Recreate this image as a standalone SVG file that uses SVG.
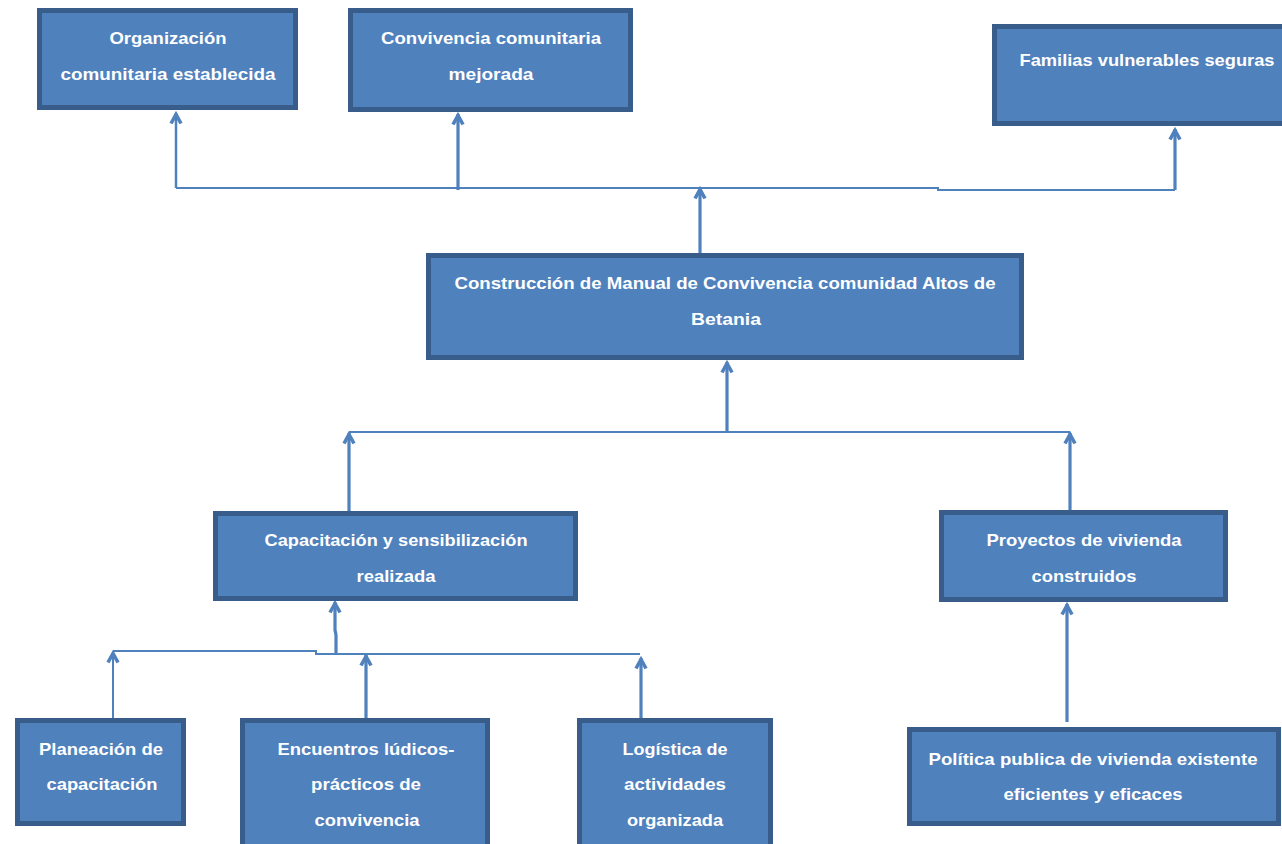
<svg xmlns="http://www.w3.org/2000/svg" width="1282" height="844" viewBox="0 0 1282 844">
<style>
.box{fill:#4F81BD;stroke:#385D8A;stroke-width:5}
.t{font-family:"Liberation Sans",Arial,sans-serif;font-size:17px;font-weight:bold;fill:#FFFFFF;text-anchor:middle}
.c{fill:none;stroke:#4F81BD;stroke-width:3.2}
.h{fill:none;stroke:#4F81BD;stroke-width:2}
</style>
<defs>
<marker id="arr" viewBox="-12 -7 14 14" refX="0" refY="0" markerWidth="14" markerHeight="14" markerUnits="userSpaceOnUse" orient="auto" overflow="visible">
<path d="M-10.5,-5 L-1.5,0 L-10.5,5" fill="none" stroke="#4F81BD" stroke-width="3.6"/>
</marker>
</defs>
<rect width="1282" height="844" fill="#FFFFFF"/>
<g id="connectors">
<polyline class="h" points="176,188 938,188 938,190 1175,190"/>
<line class="c" x1="176" y1="188" x2="176" y2="113" marker-end="url(#arr)" style="stroke-width:2.5"/>
<line class="c" x1="458" y1="190" x2="458" y2="114" marker-end="url(#arr)"/>
<line class="c" x1="1175" y1="190" x2="1175" y2="129" marker-end="url(#arr)"/>
<line class="c" x1="700" y1="253" x2="700" y2="188" marker-end="url(#arr)"/>
<line class="c" x1="727" y1="432" x2="727" y2="362" marker-end="url(#arr)"/>
<line class="h" x1="349" y1="432" x2="1070" y2="432"/>
<line class="c" x1="349" y1="512" x2="349" y2="433" marker-end="url(#arr)"/>
<line class="c" x1="1070" y1="512" x2="1070" y2="433" marker-end="url(#arr)"/>
<polyline class="c" points="336,653 336,635 335,630 335,602" marker-end="url(#arr)"/>
<polyline class="h" points="113,651 316,651 316,654 640,654"/>
<line class="h" x1="113" y1="718" x2="113" y2="652" marker-end="url(#arr)"/>
<line class="c" x1="366" y1="718" x2="366" y2="655" marker-end="url(#arr)"/>
<line class="c" x1="641" y1="718" x2="641" y2="658" marker-end="url(#arr)"/>
<line class="c" x1="1067" y1="722" x2="1067" y2="604" marker-end="url(#arr)"/>
</g>
<g id="n1">
<rect class="box" x="39.5" y="10.5" width="256" height="97"/>
<text class="t" x="168" y="44" textLength="117" lengthAdjust="spacingAndGlyphs">Organización</text>
<text class="t" x="168" y="80" textLength="215" lengthAdjust="spacingAndGlyphs">comunitaria establecida</text>
</g>
<g id="n2">
<rect class="box" x="350.5" y="10.5" width="280" height="99"/>
<text class="t" x="491" y="44" textLength="220" lengthAdjust="spacingAndGlyphs">Convivencia comunitaria</text>
<text class="t" x="491" y="80" textLength="85" lengthAdjust="spacingAndGlyphs">mejorada</text>
</g>
<g id="n3">
<rect class="box" x="994.5" y="26.5" width="305" height="97"/>
<text class="t" x="1147" y="66" textLength="255" lengthAdjust="spacingAndGlyphs">Familias vulnerables seguras</text>
</g>
<g id="n4">
<rect class="box" x="428.5" y="255.5" width="593" height="102"/>
<text class="t" x="725" y="289" textLength="541" lengthAdjust="spacingAndGlyphs">Construcción de Manual de Convivencia comunidad Altos de</text>
<text class="t" x="726" y="325" textLength="70" lengthAdjust="spacingAndGlyphs">Betania</text>
</g>
<g id="n5">
<rect class="box" x="215.5" y="513.5" width="360" height="85"/>
<text class="t" x="396" y="546" textLength="263" lengthAdjust="spacingAndGlyphs">Capacitación y sensibilización</text>
<text class="t" x="396" y="582" textLength="79" lengthAdjust="spacingAndGlyphs">realizada</text>
</g>
<g id="n6">
<rect class="box" x="941.5" y="512.5" width="284" height="87"/>
<text class="t" x="1084" y="546" textLength="195" lengthAdjust="spacingAndGlyphs">Proyectos de vivienda</text>
<text class="t" x="1084" y="582" textLength="105" lengthAdjust="spacingAndGlyphs">construidos</text>
</g>
<g id="n7">
<rect class="box" x="17.5" y="720.5" width="166" height="103"/>
<text class="t" x="101" y="755" textLength="124" lengthAdjust="spacingAndGlyphs">Planeación de</text>
<text class="t" x="102" y="790" textLength="111" lengthAdjust="spacingAndGlyphs">capacitación</text>
</g>
<g id="n8">
<rect class="box" x="242.5" y="720.5" width="245" height="130"/>
<text class="t" x="366" y="755" textLength="177" lengthAdjust="spacingAndGlyphs">Encuentros lúdicos-</text>
<text class="t" x="366" y="790" textLength="110" lengthAdjust="spacingAndGlyphs">prácticos de</text>
<text class="t" x="367" y="826" textLength="105" lengthAdjust="spacingAndGlyphs">convivencia</text>
</g>
<g id="n9">
<rect class="box" x="579.5" y="720.5" width="191" height="130"/>
<text class="t" x="675" y="755" textLength="105" lengthAdjust="spacingAndGlyphs">Logística de</text>
<text class="t" x="675" y="790" textLength="102" lengthAdjust="spacingAndGlyphs">actividades</text>
<text class="t" x="675" y="826" textLength="96" lengthAdjust="spacingAndGlyphs">organizada</text>
</g>
<g id="n10">
<rect class="box" x="909.5" y="729.5" width="369" height="94"/>
<text class="t" x="1093" y="765" textLength="329" lengthAdjust="spacingAndGlyphs">Política publica de vivienda existente</text>
<text class="t" x="1093" y="800" textLength="179" lengthAdjust="spacingAndGlyphs">eficientes y eficaces</text>
</g>
</svg>
